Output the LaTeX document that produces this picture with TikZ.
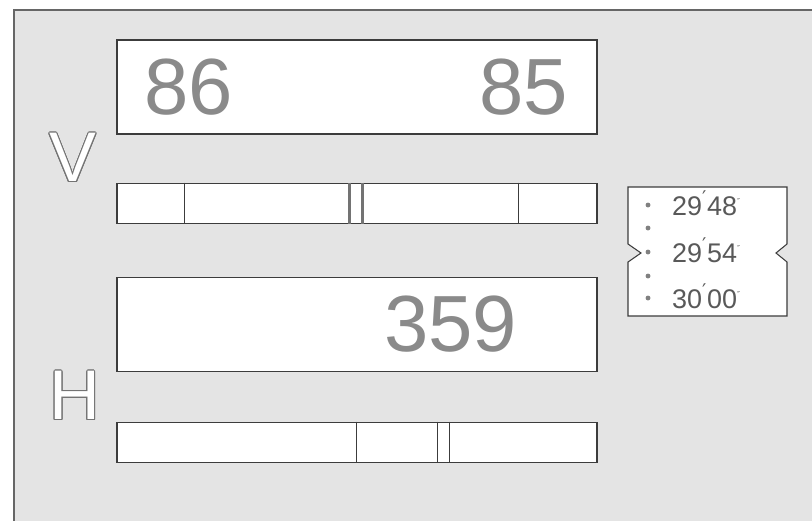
\documentclass[tikz,border=0pt]{standalone}
\usepackage{fontspec}
\usepackage{contour}
\usetikzlibrary{positioning,calc}
\newfontfamily\dialfont{Liberation Sans}
\newfontfamily\primefont{DejaVu Sans}
\definecolor{panelgray}{RGB}{228,228,228}
\definecolor{digitgray}{RGB}{138,138,138}
\definecolor{linegray}{RGB}{60,60,60}
\contourlength{0.8pt}

\begin{document}
\begin{tikzpicture}[
  x=0.03cm, y=-0.03cm,
  node distance=1.44cm,
  numbox/.style={draw=linegray, line width=0.9pt, fill=white, minimum width=14.4cm, minimum height=2.82cm, inner sep=0pt},
  barbox/.style={draw=linegray, line width=0.9pt, fill=white, minimum width=14.4cm, minimum height=1.2cm, inner sep=0pt},
  bignum/.style={font=\dialfont\fontsize{68}{68}\selectfont, text=digitgray, inner sep=0pt},
  axislbl/.style={font=\dialfont\fontsize{60}{60}\selectfont, inner sep=0pt},
  smalltxt/.style={font=\dialfont\fontsize{23}{23}\selectfont, text=black!65, inner sep=0pt, anchor=base west},
  divline/.style={draw=linegray, line width=0.8pt},
  dblline/.style={draw=black!55, line width=2.2pt},
]
\useasboundingbox (0,0) rectangle (812,521);
\clip (0,0) rectangle (812,521);

% panel
\fill[panelgray] (14,10) rectangle (812,521);
\draw[black!60, line width=1.2pt] (14,521) -- (14,10) -- (812,10);

% vertical reading
\node[numbox] (vnum) at (357,87) {};
\node[barbox, below=of vnum] (vbar) {};
\node[bignum, anchor=base west] (vleft) at (144,114) {86};
\node[bignum, anchor=base east] (vright) at (568,114) {85};
\node[axislbl, anchor=south] (vlbl) at (73,183) {\contour{black!55}{\textcolor{white}{V}}};
\draw[divline] ($(vbar.north west)+(68,0)$) -- ($(vbar.south west)+(68,0)$);
\draw[divline] ($(vbar.north west)+(402,0)$) -- ($(vbar.south west)+(402,0)$);
\draw[dblline] ($(vbar.north west)+(233,0)$) -- ($(vbar.south west)+(233,0)$);
\draw[dblline] ($(vbar.north west)+(246,0)$) -- ($(vbar.south west)+(246,0)$);

% horizontal reading
\node[numbox, below=1.59cm of vbar] (hnum) {};
\node[barbox, below=1.5cm of hnum] (hbar) {};
\node[bignum, anchor=base west] (hval) at (384,351) {359};
\node[axislbl, anchor=south] (hlbl) at (75,421) {\contour{black!55}{\textcolor{white}{H}}};
\draw[divline] ($(hbar.north west)+(240,0)$) -- ($(hbar.south west)+(240,0)$);
\draw[divline, line width=1.3pt] ($(hbar.north west)+(321,0)$) -- ($(hbar.south west)+(321,0)$);
\draw[divline, line width=1.3pt] ($(hbar.north west)+(333,0)$) -- ($(hbar.south west)+(333,0)$);

% time scale
\draw[draw=linegray, line width=0.9pt, fill=white]
  (628,187) coordinate (tnw) -- (787,187) coordinate (tne) -- (787,244) -- (776,253) -- (787,262)
  -- (787,316) coordinate (tse) -- (628,316) coordinate (tsw) -- (628,262) -- (641,253) -- (628,244) -- cycle;
\foreach \y in {205,228,252,276,298}
  \fill[black!50] (648,\y) circle (2.1pt);
\node[smalltxt] (t48) at (672,215) {29\textsuperscript{\primefont′}48\textsuperscript{\primefont\scriptsize″}};
\node[smalltxt] (t54) at (672,262) {29\textsuperscript{\primefont′}54\textsuperscript{\primefont\scriptsize″}};
\node[smalltxt] (t00) at (672,308) {30\textsuperscript{\primefont′}00\textsuperscript{\primefont\scriptsize″}};
\end{tikzpicture}
\end{document}
